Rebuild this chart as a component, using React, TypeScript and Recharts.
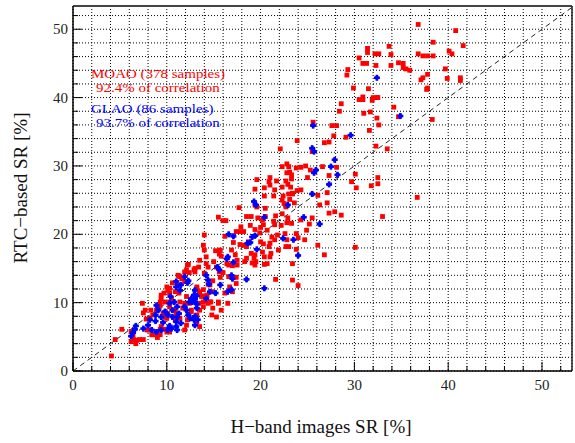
import React from "react";
import {
  ScatterChart,
  Scatter,
  XAxis,
  YAxis,
  CartesianGrid,
  ReferenceLine,
} from "recharts";

// MOAO samples: [H-band images SR, RTC-based SR] in %
const moaoPoints: [number, number][] = [
  [36.8, 50.7], [40.8, 49.8], [38.4, 48.1], [41.6, 47.6], [33.7, 47.5], [31.4, 47.2], [31.4, 46.6],
  [32.2, 46.4], [32.6, 46.4], [33.9, 46.3], [36.8, 46.4], [37.3, 46.1], [37.8, 46.1], [38.4, 46.1],
  [40.1, 46.8], [40.4, 46.4], [30.5, 45.8], [30.9, 45.0], [31.3, 45.0], [32.3, 44.7], [33.9, 44.7],
  [34.7, 45.1], [35.2, 45.0], [35.2, 44.4], [35.5, 44.2], [35.9, 44.0], [39.7, 44.2], [29.3, 44.1],
  [29.2, 43.3], [37.3, 42.9], [37.1, 42.6], [37.8, 43.4], [39.9, 42.8], [41.3, 42.9], [41.3, 42.5],
  [29.9, 41.4], [31.5, 41.3], [37.8, 41.4], [37.7, 41.2], [30.5, 39.7], [30.9, 40.1], [30.9, 39.7],
  [32.0, 40.0], [31.9, 39.6], [32.4, 40.0], [32.5, 40.0], [28.6, 39.1], [28.4, 38.0], [31.0, 37.7],
  [31.7, 37.9], [34.2, 38.6], [34.7, 37.2], [32.4, 37.0], [38.3, 36.8], [25.6, 36.4], [27.6, 35.9],
  [28.1, 35.9], [32.6, 36.0], [27.8, 34.4], [29.1, 34.2], [31.6, 35.2], [26.8, 33.4], [27.3, 33.5],
  [32.3, 32.9], [33.5, 32.5],
  [28.1, 29.8], [27.3, 28.6], [30.1, 28.8], [32.5, 28.3], [29.7, 27.7], [32.5, 27.4], [30.2, 26.8],
  [31.8, 27.1], [36.7, 25.4], [27.9, 23.3], [27.3, 23.1], [28.6, 22.8], [33.0, 22.6], [30.1, 18.1],
  [23.9, 33.7], [22.1, 32.5], [25.5, 32.1], [22.8, 30.3], [23.0, 29.9], [22.3, 29.9], [23.8, 29.7],
  [24.3, 29.8], [24.8, 30.0], [25.3, 29.4], [26.6, 29.9], [22.8, 29.0], [23.1, 29.1], [23.3, 28.7],
  [21.0, 28.3], [20.9, 27.7], [19.6, 28.0], [21.7, 27.8], [22.7, 27.8], [22.9, 27.3], [23.3, 28.1],
  [23.2, 26.9], [22.3, 26.9], [25.0, 28.3], [20.4, 26.8], [21.0, 27.2], [19.4, 26.6], [21.5, 26.5],
  [23.9, 26.4], [24.3, 26.5], [23.4, 26.0], [20.4, 25.6], [21.4, 25.6], [22.3, 25.0], [23.1, 25.1],
  [26.1, 25.7], [27.1, 26.1], [17.7, 23.9], [19.4, 24.3], [19.6, 24.0], [20.5, 23.8], [22.5, 24.5],
  [22.7, 24.0], [26.3, 24.3],
  [22.4, 25.6], [23.0, 25.9], [23.4, 25.9], [23.6, 24.6], [27.1, 24.6],
  [18.5, 22.6], [19.0, 22.6], [19.7, 22.4], [20.2, 22.1], [20.5, 22.6], [21.6, 22.7], [21.4, 21.9],
  [22.3, 23.0], [22.9, 22.4], [22.8, 21.7], [22.2, 21.3], [21.5, 21.4], [20.3, 21.4], [23.3, 21.6],
  [24.3, 22.1], [25.2, 21.5], [25.5, 22.4], [24.9, 20.6], [26.1, 18.4], [26.8, 17.0], [17.9, 21.1],
  [17.8, 20.4], [18.2, 20.4], [17.4, 20.4], [18.9, 21.3], [19.4, 20.7], [20.0, 21.0], [19.9, 20.2],
  [20.7, 20.6], [21.2, 19.6], [21.8, 19.9], [21.5, 19.2], [22.6, 20.1], [22.8, 19.2], [23.8, 20.1],
  [24.0, 19.5], [24.7, 19.2], [17.1, 18.8], [17.8, 18.5], [18.2, 18.4], [18.7, 18.9], [18.5, 18.2],
  [20.0, 18.9], [20.3, 18.6], [21.0, 18.7], [20.9, 18.2], [21.9, 17.7], [22.7, 18.2], [23.0, 18.2],
  [23.8, 17.8], [19.0, 17.2], [19.4, 17.0], [19.3, 16.5], [18.5, 16.5], [18.3, 16.0], [20.2, 17.4],
  [20.4, 16.7], [21.1, 17.2], [21.0, 16.7], [19.5, 16.0], [19.1, 15.8], [20.4, 15.6], [17.3, 17.0],
  [17.5, 16.2], [17.5, 15.5], [21.6, 13.4], [23.4, 13.3], [24.0, 12.5], [17.4, 13.7], [17.4, 12.8],
  [15.5, 22.5], [16.0, 22.0], [16.3, 22.0], [14.0, 19.9], [16.2, 19.7], [13.9, 18.4], [14.0, 17.7],
  [15.2, 17.6], [15.7, 17.7], [15.6, 17.1], [15.8, 16.8], [16.9, 17.7], [13.5, 16.2], [14.2, 15.7],
  [14.4, 15.2], [15.0, 16.0], [15.3, 15.2], [16.4, 15.7], [17.0, 15.4], [12.2, 15.5], [11.9, 14.5],
  [13.4, 15.2], [12.4, 14.4], [12.9, 14.8], [14.0, 14.3], [15.6, 14.5], [15.7, 13.7], [16.6, 13.8],
  [11.4, 13.8], [11.9, 13.1], [11.2, 12.6], [10.9, 11.6], [13.2, 12.3], [13.5, 11.6], [13.9, 11.9],
  [14.6, 12.6], [14.9, 11.6], [16.2, 11.4], [16.7, 12.3], [17.0, 11.6], [9.7, 11.4], [9.4, 10.6],
  [12.1, 10.9],
  [23.4, 15.7], [20.7, 15.7], [19.4, 15.5], [16.6, 15.5], [16.0, 14.4], [16.5, 9.9], [14.8, 8.2],
  [15.5, 10.1], [14.7, 10.1], [14.9, 13.2], [14.4, 12.7], [14.3, 11.1], [13.9, 11.0], [13.5, 11.4],
  [13.2, 12.1], [13.0, 11.0], [13.4, 9.9], [12.4, 9.9], [12.6, 8.9], [13.2, 7.2],
  [14.2, 16.7], [12.3, 15.6], [13.0, 15.0], [13.0, 14.5], [11.3, 13.9], [11.6, 13.5], [10.0, 12.3],
  [10.1, 11.8], [10.5, 10.6], [10.3, 10.1], [9.3, 9.6], [9.0, 9.2], [7.5, 8.5], [7.7, 8.9],
  [8.5, 8.2], [8.2, 7.7], [9.6, 8.4], [9.8, 7.9], [10.0, 7.7], [10.3, 9.4], [10.1, 8.4],
  [11.0, 8.4], [11.4, 7.7], [10.9, 7.5], [12.3, 8.2], [12.6, 8.7], [12.2, 7.5], [13.2, 8.2],
  [13.5, 8.9], [13.7, 10.9], [13.9, 9.4], [14.4, 9.9], [14.9, 9.2], [15.5, 9.9], [15.8, 8.9],
  [15.3, 7.9], [11.3, 11.4], [10.6, 12.9], [10.3, 12.1], [10.3, 11.4],
  [4.1, 2.2], [4.5, 4.6], [5.2, 6.1], [6.2, 5.8], [6.4, 5.3], [6.2, 4.3], [6.7, 4.0],
  [7.1, 4.6], [7.5, 4.6], [7.4, 9.9], [8.3, 8.9], [8.8, 5.3], [9.3, 5.3], [9.0, 4.9],
  [9.7, 6.1], [10.0, 5.7], [10.3, 5.7], [9.4, 11.1], [11.2, 14.0], [12.1, 14.8], [13.5, 6.5],
  [12.1, 6.7], [11.9, 6.0], [6.5, 4.6], [6.8, 4.5], [7.8, 7.6], [7.9, 6.0], [8.1, 6.0],
  [8.4, 5.3], [9.3, 6.1], [9.4, 6.5], [10.1, 6.1], [8.9, 8.9], [9.2, 9.4], [9.3, 10.1],
  [9.8, 10.1], [11.4, 10.1], [11.9, 9.9], [13.9, 10.1], [14.6, 10.1], [10.9, 8.9], [11.7, 9.2],
  [6.3, 5.7],
];

// GLAO samples: [H-band images SR, RTC-based SR] in %
const glaoPoints: [number, number][] = [
  [6.2, 5.1], [6.4, 5.6], [6.6, 6.1], [6.7, 6.6],
  [7.5, 6.2], [8.0, 6.7], [8.4, 6.0], [8.2, 7.5],
  [8.9, 5.7], [9.4, 6.0], [8.8, 7.3], [9.6, 7.1], [8.8, 8.2], [9.1, 8.9], [8.9, 9.6], [9.4, 7.9],
  [10.1, 6.0], [10.5, 6.2],
  [10.3, 6.6], [11.0, 6.5], [11.1, 6.0],
  [9.8, 8.7], [10.1, 8.2], [10.6, 7.9], [10.3, 9.9], [10.8, 10.1],
  [11.1, 7.9], [11.3, 8.4], [11.0, 7.2], [11.5, 7.0], [11.1, 9.4], [10.6, 8.9],
  [11.9, 9.4], [12.1, 8.9], [12.3, 8.2], [12.5, 7.7], [12.9, 7.5], [12.4, 10.1], [13.0, 10.1], [13.2, 9.2],
  [13.0, 8.0], [13.3, 7.5], [13.0, 6.7],
  [12.9, 11.1], [13.2, 11.0], [12.6, 10.6], [13.0, 10.5], [12.7, 10.1], [13.0, 11.8], [13.2, 9.8],
  [11.0, 13.1], [11.9, 13.8], [12.3, 13.2], [12.2, 12.9], [11.5, 12.6], [11.0, 12.3], [11.4, 11.8],
  [14.2, 14.0], [14.4, 13.3], [14.5, 12.7], [15.2, 11.4], [14.6, 11.6], [15.4, 15.2], [15.6, 14.8],
  [15.7, 12.6], [16.5, 11.6], [10.4, 10.9], [14.2, 10.6],
  [16.6, 20.0], [17.1, 19.7], [16.5, 16.7], [16.4, 16.4], [17.1, 15.9], [16.9, 14.0], [17.0, 13.5],
  [18.5, 13.4], [16.9, 11.9], [20.4, 12.1], [19.1, 19.6], [18.9, 18.8], [19.4, 19.8], [18.6, 18.7],
  [22.4, 19.4], [23.5, 19.2], [19.6, 17.8], [24.0, 16.9], [24.6, 22.5], [26.3, 21.5], [20.4, 22.5],
  [19.3, 24.8], [19.5, 24.3], [22.9, 24.3], [25.5, 25.9], [27.3, 27.3], [25.7, 29.0], [25.9, 29.4],
  [25.5, 32.6], [25.7, 32.1], [27.9, 30.9], [27.5, 29.9], [28.2, 28.7], [32.4, 42.9], [25.6, 35.9],
  [29.6, 34.5], [34.9, 37.3],
];

// Axis ranges, grid steps (every 2 %) and labelled values
const X_MAX = 53.2;
const Y_MAX = 53.4;
const gridTicks = [0, 2, 4, 6, 8, 10, 12, 14, 16, 18, 20, 22, 24, 26, 28, 30, 32, 34, 36, 38, 40, 42, 44, 46, 48, 50, 52];
const labelledTicks = [0, 10, 20, 30, 40, 50];

const legendLines = [
  { text: "MOAO (378 samples)", color: "#ff0000", indent: 0 },
  { text: "92.4% of correlation", color: "#ff0000", indent: 1 },
  { text: "GLAO (86 samples)", color: "#0000ff", indent: 0 },
  { text: "93.7% of correlation", color: "#0000ff", indent: 1 },
];

const SERIF = "'Liberation Serif', 'Times New Roman', serif";

const moaoData = moaoPoints.map(([x, y]) => ({ x, y }));
const glaoData = glaoPoints.map(([x, y]) => ({ x, y }));

const XTick = (props: any) => {
  const { x, y, payload } = props;
  const v = payload.value as number;
  const major = labelledTicks.includes(v);
  return (
    <g>
      <line x1={x} y1={y} x2={x} y2={y - (major ? 9 : 5)} stroke="#000" strokeWidth={1} />
      {major && (
        <text x={x} y={y + 19} textAnchor="middle" fontFamily={SERIF} fontSize={15} fill="#222">
          {v}
        </text>
      )}
    </g>
  );
};

const YTick = (props: any) => {
  const { x, y, payload } = props;
  const v = payload.value as number;
  const major = labelledTicks.includes(v);
  return (
    <g>
      <line x1={x} y1={y} x2={x + (major ? 9 : 5)} y2={y} stroke="#000" strokeWidth={1} />
      {major && (
        <text x={x - 5} y={y + 5} textAnchor="end" fontFamily={SERIF} fontSize={15} fill="#222">
          {v}
        </text>
      )}
    </g>
  );
};

const Square = (props: any) => {
  const { cx, cy } = props;
  return <rect x={cx - 2.4} y={cy - 2.4} width={4.8} height={4.8} fill="#ff0000" />;
};

const Cross = (props: any) => {
  const { cx, cy } = props;
  return (
    <g fill="#0000ff">
      <rect x={cx - 3} y={cy - 1.3} width={6} height={2.6} />
      <rect x={cx - 1.3} y={cy - 3} width={2.6} height={6} />
      <polygon points={`${cx},${cy - 2.8} ${cx + 2.8},${cy} ${cx},${cy + 2.8} ${cx - 2.8},${cy}`} />
    </g>
  );
};

export default function App() {
  return (
    <div style={{ position: "absolute", left: 0, top: 0, width: 575, height: 443, background: "#fff" }}>
      <ScatterChart width={575} height={443} margin={{ top: 6, right: 3, bottom: 0, left: 0 }}>
        <CartesianGrid stroke="#000" strokeDasharray="1 2" strokeWidth={1} />
        <XAxis
          type="number"
          dataKey="x"
          domain={[0, X_MAX]}
          ticks={gridTicks}
          interval={0}
          allowDataOverflow
          height={72}
          tickSize={0}
          tickMargin={0}
          tick={<XTick />}
          axisLine={{ stroke: "#000", strokeWidth: 1.5 }}
          tickLine={false}
        />
        <YAxis
          type="number"
          dataKey="y"
          domain={[0, Y_MAX]}
          ticks={gridTicks}
          interval={0}
          allowDataOverflow
          width={73}
          tickSize={0}
          tickMargin={0}
          tick={<YTick />}
          axisLine={{ stroke: "#000", strokeWidth: 1.5 }}
          tickLine={false}
        />
        <ReferenceLine y={Y_MAX} stroke="#444" strokeWidth={2} ifOverflow="extendDomain" />
        <ReferenceLine x={X_MAX} stroke="#222" strokeWidth={1.5} ifOverflow="extendDomain" />
        <ReferenceLine
          segment={[{ x: 0, y: 0 }, { x: X_MAX, y: X_MAX }]}
          stroke="#222"
          strokeWidth={1}
          strokeDasharray="5 4"
          ifOverflow="hidden"
        />
        <Scatter data={moaoData} shape={<Square />} isAnimationActive={false} />
        <Scatter data={glaoData} shape={<Cross />} isAnimationActive={false} />
      </ScatterChart>
      <svg
        width={575}
        height={443}
        style={{ position: "absolute", left: 0, top: 0, pointerEvents: "none" }}
      >
        {legendLines.map((l, i) => (
          <text
            key={i}
            transform={`translate(${91 + l.indent * 5},${[78, 92, 113, 127][i]}) scale(1,0.84)`}
            fill={l.color}
            fontFamily={SERIF}
            fontSize={15}
          >
            {l.text}
          </text>
        ))}
        <text x={321} y={433} textAnchor="middle" fontFamily={SERIF} fontSize={19} fill="#111">
          H−band images SR [%]
        </text>
        <text
          transform="translate(27,188) rotate(-90)"
          textAnchor="middle"
          fontFamily={SERIF}
          fontSize={19}
          fill="#111"
        >
          RTC−based SR [%]
        </text>
      </svg>
    </div>
  );
}
